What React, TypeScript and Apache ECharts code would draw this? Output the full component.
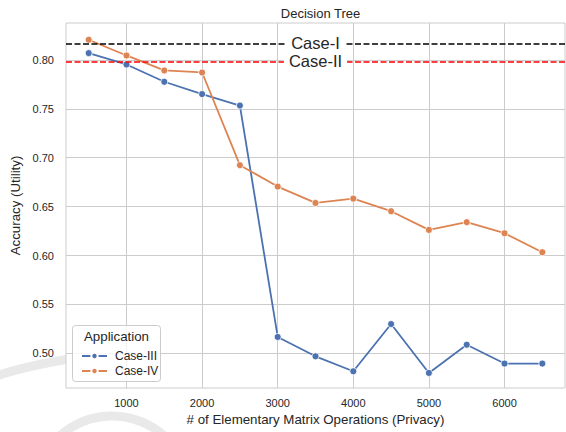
import React, { useEffect, useRef } from "react";
import * as echarts from "echarts";

const xValues = [500, 1000, 1500, 2000, 2500, 3000, 3500, 4000, 4500, 5000, 5500, 6000, 6500];
const caseIII = [0.807, 0.7954, 0.7777, 0.7651, 0.7534, 0.5167, 0.4969, 0.4816, 0.5299, 0.4799, 0.5088, 0.4895, 0.4895];
const caseIV = [0.8207, 0.8046, 0.7893, 0.7872, 0.6924, 0.6705, 0.6538, 0.6582, 0.6453, 0.6262, 0.6341, 0.6228, 0.6034];
const caseI = 0.8169;
const caseII = 0.7985;
const xTicks = [1000, 2000, 3000, 4000, 5000, 6000];
const yTicks = [0.5, 0.55, 0.6, 0.65, 0.7, 0.75, 0.8];

const FONT = "Liberation Sans, Arial, sans-serif";
const TXT = "#262626";

export default function App() {
  const ref = useRef<HTMLDivElement>(null);
  useEffect(() => {
    if (!ref.current) return;
    const chart = echarts.init(ref.current, undefined, { renderer: "svg" });
    const mk = (name: string, data: number[], color: string, extra: any = {}) => ({
      name,
      type: "line",
      data: xValues.map((x, i) => [x, data[i]]),
      symbol: "circle",
      symbolSize: 7,
      showSymbol: true,
      lineStyle: { color, width: 1.8 },
      itemStyle: { color, borderColor: "#fff", borderWidth: 0.8 },
      emphasis: { disabled: true },
      z: 3,
      ...extra,
    });
    chart.setOption({
      animation: false,
      textStyle: { fontFamily: FONT, color: TXT },
      title: {
        text: "Decision Tree",
        left: 315.5,
        textAlign: "center",
        top: 2,
        textStyle: { fontSize: 13, fontWeight: "normal", color: TXT, fontFamily: FONT },
      },
      grid: {
        left: 66,
        top: 23,
        right: 1,
        bottom: 44,
        show: true,
        backgroundColor: "#fff",
        borderColor: "#cccccc",
        borderWidth: 1,
      },
      xAxis: {
        type: "value",
        min: 200,
        max: 6800,
        name: "# of Elementary Matrix Operations (Privacy)",
        nameLocation: "middle",
        nameGap: 24,
        nameTextStyle: { fontSize: 13.3, color: TXT, fontFamily: FONT },
        axisLine: { show: false },
        axisTick: { show: false, customValues: xTicks },
        axisLabel: {
          customValues: xTicks,
          fontSize: 11,
          color: TXT,
          margin: 9,
          fontFamily: FONT,
          formatter: (v: number) => String(v),
        },
        splitLine: { show: true, lineStyle: { color: "#cccccc", width: 1 } },
      },
      yAxis: {
        type: "value",
        min: 0.4645,
        max: 0.8378,
        name: "Accuracy (Utility)",
        nameLocation: "middle",
        nameGap: 39,
        nameTextStyle: { fontSize: 13.3, color: TXT, fontFamily: FONT },
        axisLine: { show: false },
        axisTick: { show: false, customValues: yTicks },
        axisLabel: {
          customValues: yTicks,
          fontSize: 11,
          color: TXT,
          margin: 12,
          fontFamily: FONT,
          formatter: (v: number) => v.toFixed(2),
        },
        splitLine: { show: true, lineStyle: { color: "#cccccc", width: 1 } },
      },
      legend: {
        data: ["Case-III", "Case-IV"],
        orient: "vertical",
        left: 76,
        top: 345,
        itemWidth: 25,
        itemHeight: 8,
        itemGap: 3,
        textStyle: { fontSize: 12, color: TXT, fontFamily: FONT, padding: [0, 0, 0, 3] },
        z: 10,
      },
      graphic: [
        {
          type: "bezierCurve",
          z: -5,
          silent: true,
          shape: { x1: -10, y1: 378, x2: 90, y2: 356, cpx1: 30, cpy1: 364 },
          style: { stroke: "#e9e9e9", lineWidth: 9, fill: null },
        },
        {
          type: "circle",
          z: -5,
          silent: true,
          shape: { cx: 112, cy: 494, r: 78 },
          style: { stroke: "#e9e9e9", lineWidth: 9, fill: null },
        },
        {
          type: "rect",
          z: 9,
          silent: true,
          shape: { x: 72.5, y: 325.5, width: 88, height: 56, r: 3 },
          style: { fill: "rgba(255,255,255,0.8)", stroke: "#cccccc", lineWidth: 1 },
        },
        {
          type: "text",
          z: 10,
          silent: true,
          x: 116.5,
          y: 336,
          style: {
            text: "Application",
            fontSize: 13.3,
            fontFamily: FONT,
            fill: TXT,
            align: "center",
            verticalAlign: "middle",
          },
        },
      ],
      series: [
        mk("Case-III", caseIII, "#4c72b0", {
          markLine: {
            silent: true,
            symbol: "none",
            animation: false,
            precision: 6,
            data: [
              {
                yAxis: caseI,
                lineStyle: { color: "#000", type: [6, 2.5], width: 1.7 },
                label: { formatter: "Case-I" },
              },
              {
                yAxis: caseII,
                lineStyle: { color: "#ff0000", type: [6, 2.5], width: 1.7 },
                label: { formatter: "Case-II" },
              },
            ],
            label: {
              show: true,
              position: "middle",
              distance: 0,
              fontSize: 16.5,
              color: TXT,
              fontFamily: FONT,
              backgroundColor: "#fff",
              padding: [0, 5],
              verticalAlign: "middle",
            },
          },
        }),
        mk("Case-IV", caseIV, "#dd8452"),
      ],
    });
    return () => chart.dispose();
  }, []);
  return (
    <div
      ref={ref}
      style={{ position: "fixed", left: 0, top: 0, width: 566, height: 432, background: "#fff" }}
    />
  );
}
